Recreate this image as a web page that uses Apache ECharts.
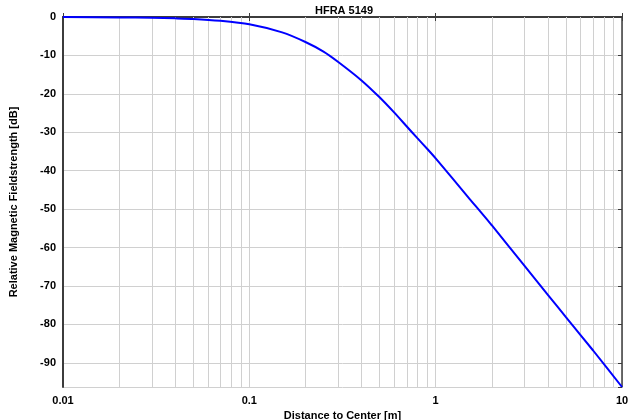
<!DOCTYPE html>
<html>
<head>
<meta charset="utf-8">
<script src="https://cdn.jsdelivr.net/npm/echarts@6/dist/echarts.min.js"></script>
<style>
    html, body { margin: 0; padding: 0; background: #fff; }
    #chart { width: 640px; height: 420px; }
</style>
</head>
<body>
<div id="chart"></div>
<script>
    // distance to center [m]
    var distance = [0.01, 0.02, 0.03, 0.04, 0.05, 0.07, 0.1, 0.15, 0.2, 0.25, 0.3, 0.4, 0.5,
        0.6, 0.7, 0.8, 0.9, 1, 1.5, 2, 3, 4, 5, 7, 10]
    // relative field strength [dB]
    var fieldDb = [0, -0.1, -0.2, -0.35, -0.5, -1.0, -1.9, -4.0, -6.5, -9.0, -11.7, -16.5, -20.9,
        -24.9, -28.5, -31.6, -34.3, -36.8, -47.0, -54.2, -64.8, -72.3, -78.1, -86.8, -96.3]
    // minor grid positions on the log axis
    var minorTicks = [0.02, 0.03, 0.04, 0.05, 0.06, 0.07, 0.08, 0.09,
        0.2, 0.3, 0.4, 0.5, 0.6, 0.7, 0.8, 0.9,
        2, 3, 4, 5, 6, 7, 8, 9]
    // lowest value shown on the y axis (dB, as positive attenuation)
    var yDepth = 96.3

    var font = 'Liberation Sans, Arial, sans-serif'
    var axisColor = '#3c3c3c'
    var gridColor = '#d0d0d0'

    var chart = echarts.init(document.getElementById('chart'), null, { renderer: 'canvas' })

    // y axis is drawn inverted with attenuation values so ticks start at 0
    var points = distance.map(function (d, i) {
        return [d, -fieldDb[i]]
    })

    var xBase = {
        type: 'log',
        logBase: 10,
        min: 0.01,
        max: 10
    }
    var yBase = {
        type: 'value',
        min: 0,
        max: yDepth,
        interval: 10,
        inverse: true
    }

    chart.setOption({
        animation: false,
        title: {
            text: 'HFRA 5149',
            left: 310,
            top: 0,
            textStyle: { fontFamily: font, fontSize: 11, fontWeight: 'bold', color: '#000' }
        },
        grid: { left: 63, right: 18, top: 17, bottom: 33, outerBoundsMode: 'none', containLabel: false },
        xAxis: [
            Object.assign({}, xBase, {
                position: 'bottom',
                name: 'Distance to Center [m]',
                nameLocation: 'middle',
                nameGap: 20,
                nameTextStyle: { fontFamily: font, fontSize: 11, fontWeight: 'bold', color: '#000' },
                axisLine: { show: true, lineStyle: { color: axisColor, width: 2 } },
                axisTick: { show: true, inside: true, length: 4, lineStyle: { color: axisColor } },
                axisLabel: {
                    fontFamily: font, fontSize: 11, fontWeight: 'bold', color: '#000', margin: 8,
                    formatter: function (v) { return String(v) }
                },
                splitLine: { show: true, lineStyle: { color: gridColor, width: 1 } }
            }),
            Object.assign({}, xBase, {
                position: 'top',
                axisLine: { show: true, lineStyle: { color: axisColor, width: 1.5 } },
                axisTick: { show: true, inside: true, length: 4, lineStyle: { color: axisColor } },
                axisLabel: { show: false },
                splitLine: { show: false }
            })
        ],
        yAxis: [
            Object.assign({}, yBase, {
                position: 'left',
                name: 'Relative Magnetic Fieldstrength [dB]',
                nameLocation: 'middle',
                nameGap: 44,
                nameTextStyle: { fontFamily: font, fontSize: 11, fontWeight: 'bold', color: '#000' },
                axisLine: { show: true, lineStyle: { color: axisColor, width: 2 } },
                axisTick: { show: false },
                axisLabel: {
                    fontFamily: font, fontSize: 11, fontWeight: 'bold', color: '#000', margin: 7,
                    showMaxLabel: false,
                    formatter: function (v) { return v === 0 ? '0' : '-' + v }
                },
                splitLine: { show: true, lineStyle: { color: gridColor, width: 1 } }
            }),
            Object.assign({}, yBase, {
                position: 'right',
                axisLine: { show: true, lineStyle: { color: axisColor, width: 1.5 } },
                axisTick: { show: true, inside: true, length: 4, lineStyle: { color: axisColor } },
                axisLabel: { show: false },
                splitLine: { show: false }
            })
        ],
        series: [
            {
                // minor vertical grid lines
                type: 'line',
                data: [],
                z: 1,
                silent: true,
                markLine: {
                    silent: true,
                    symbol: ['none', 'none'],
                    label: { show: false },
                    lineStyle: { type: 'solid', color: gridColor, width: 1 },
                    data: minorTicks.map(function (v) { return { xAxis: v } })
                }
            },
            {
                name: 'HFRA 5149',
                type: 'line',
                data: points,
                z: 5,
                showSymbol: false,
                smooth: 0.2,
                lineStyle: { color: '#0000ff', width: 2 }
            }
        ]
    })
</script>
</body>
</html>
